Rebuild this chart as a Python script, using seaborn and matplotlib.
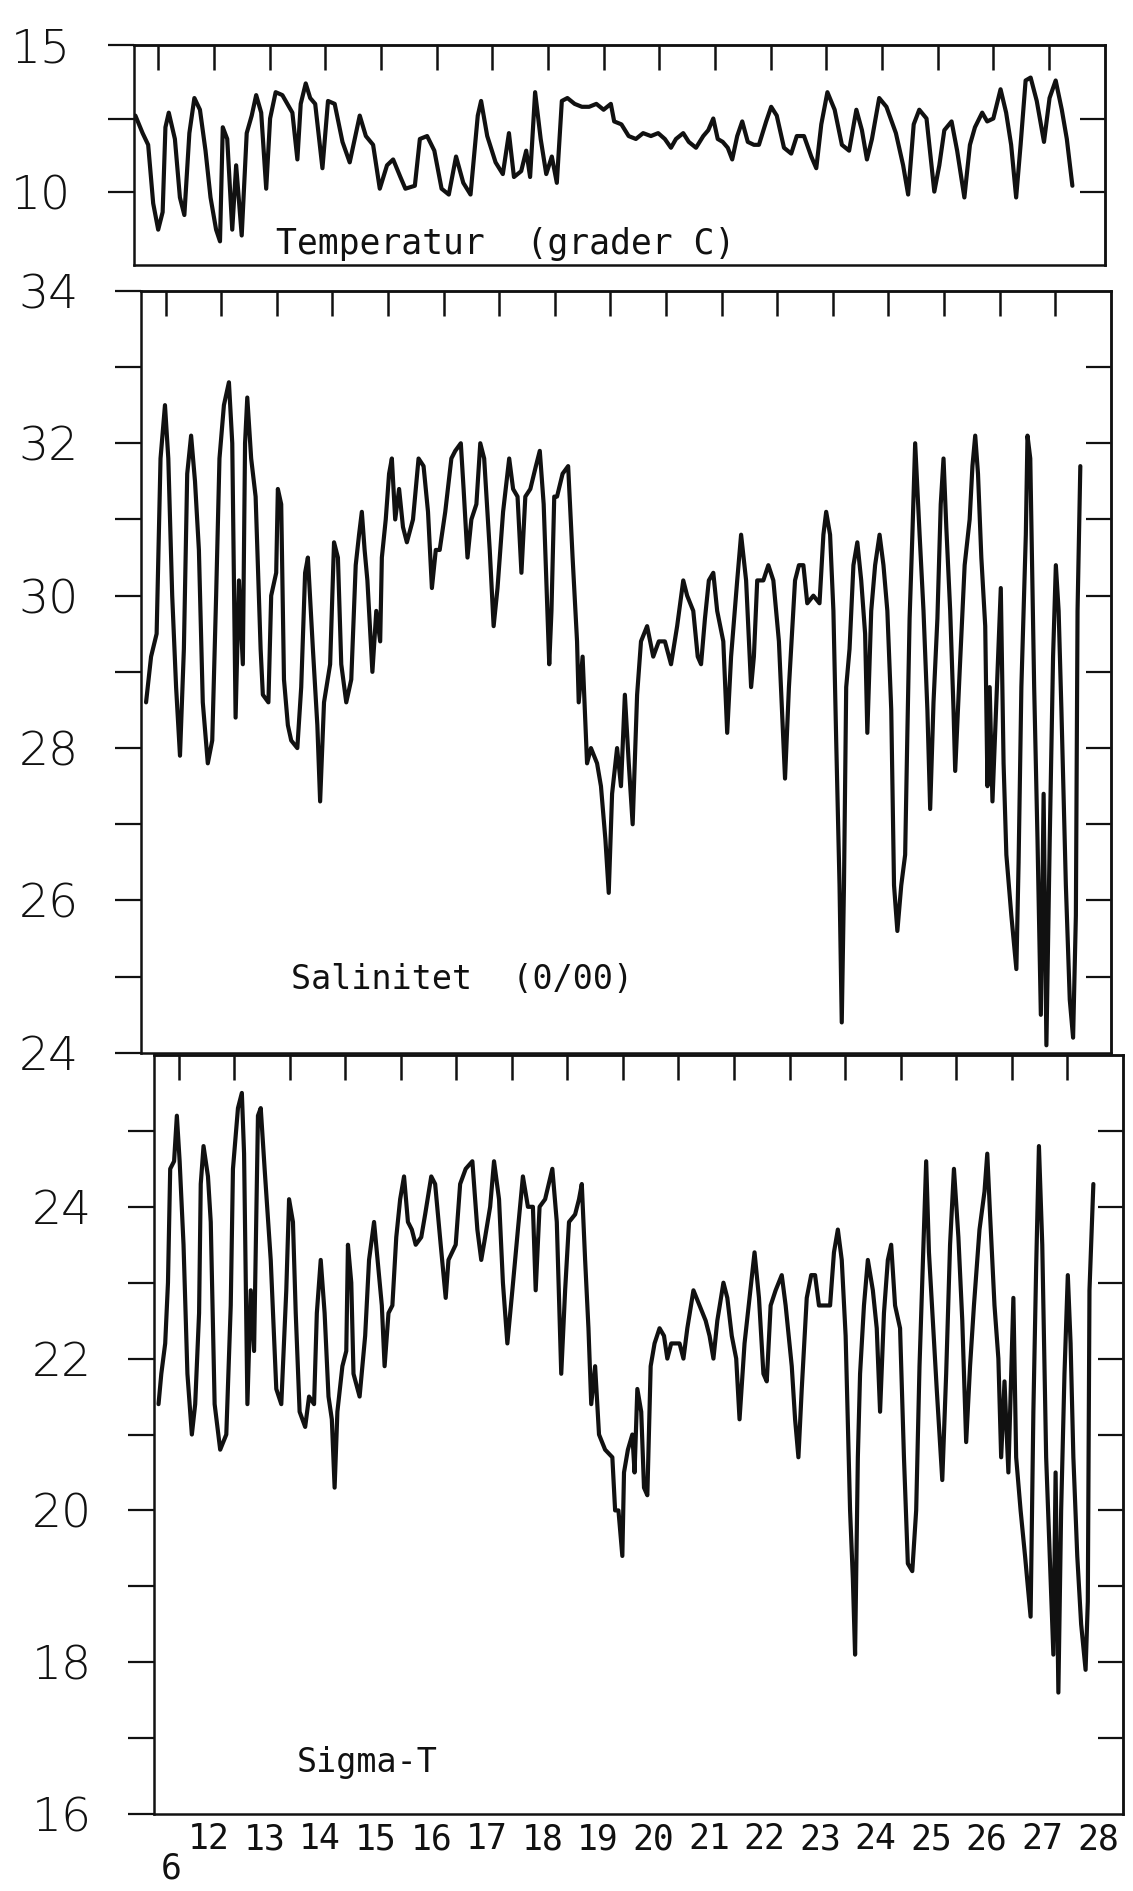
import matplotlib.pyplot as plt
import pandas as pd
import seaborn as sns


# time axis in days (month 6)
X_START = 11.56
X_END = 29.0
DAY_TICKS = list(range(12, 29))
DAY_LABELS = [str(d) for d in DAY_TICKS]
MONTH_LABEL = "6"

TEMP_DAY = [
    11.59, 11.72, 11.82, 11.91, 12.00, 12.08, 12.13, 12.19, 12.30, 12.39,
    12.47, 12.56, 12.65, 12.75, 12.85, 12.94, 13.04, 13.11, 13.16, 13.24,
    13.33, 13.40, 13.50, 13.59, 13.68, 13.76, 13.85, 13.94, 14.01, 14.11,
    14.23, 14.41, 14.50, 14.56, 14.65, 14.73, 14.82, 14.95, 15.05, 15.17,
    15.31, 15.44, 15.53, 15.62, 15.73, 15.86, 15.98, 16.11, 16.22, 16.35,
    16.44, 16.61, 16.70, 16.83, 16.96, 17.09, 17.22, 17.35, 17.48, 17.61,
    17.74, 17.80, 17.91, 18.06, 18.19, 18.30, 18.39, 18.52, 18.61, 18.68,
    18.77, 18.87, 18.97, 19.07, 19.16, 19.25, 19.35, 19.48, 19.61, 19.74,
    19.87, 20.00, 20.13, 20.19, 20.32, 20.45, 20.58, 20.71, 20.85, 20.98,
    21.10, 21.21, 21.30, 21.43, 21.53, 21.66, 21.79, 21.88, 21.97, 22.05,
    22.14, 22.23, 22.31, 22.40, 22.49, 22.59, 22.70, 22.79, 22.92, 23.01,
    23.11, 23.24, 23.37, 23.47, 23.60, 23.73, 23.82, 23.91, 24.02, 24.15,
    24.28, 24.41, 24.54, 24.64, 24.73, 24.82, 24.95, 25.08, 25.25, 25.38,
    25.47, 25.57, 25.67, 25.80, 25.94, 26.03, 26.12, 26.25, 26.35, 26.48,
    26.58, 26.67, 26.80, 26.89, 27.00, 27.13, 27.23, 27.32, 27.41, 27.49,
    27.58, 27.67, 27.78, 27.91, 28.01, 28.12, 28.23, 28.32, 28.42,
]
TEMP_VAL = [
    12.6, 12.0, 11.6, 9.6, 8.7, 9.3, 12.2, 12.7, 11.8, 9.8,
    9.2, 12.0, 13.2, 12.8, 11.4, 9.8, 8.7, 8.3, 12.2, 11.8,
    8.7, 10.9, 8.5, 12.0, 12.6, 13.3, 12.7, 10.1, 12.5, 13.4,
    13.3, 12.7, 11.1, 13.0, 13.7, 13.2, 13.0, 10.8, 13.1, 13.0,
    11.7, 11.0, 11.8, 12.6, 11.9, 11.6, 10.1, 10.9, 11.1, 10.5,
    10.1, 10.2, 11.8, 11.9, 11.4, 10.1, 9.9, 11.2, 10.3, 9.9,
    12.6, 13.1, 11.9, 11.0, 10.6, 12.0, 10.5, 10.7, 11.4, 10.5,
    13.4, 11.8, 10.6, 11.2, 10.3, 13.1, 13.2, 13.0, 12.9, 12.9,
    13.0, 12.8, 13.0, 12.4, 12.3, 11.9, 11.8, 12.0, 11.9, 12.0,
    11.8, 11.5, 11.8, 12.0, 11.7, 11.5, 11.9, 12.1, 12.5, 11.8,
    11.7, 11.5, 11.1, 11.9, 12.4, 11.7, 11.6, 11.6, 12.4, 12.9,
    12.6, 11.5, 11.3, 11.9, 11.9, 11.2, 10.8, 12.3, 13.4, 12.8,
    11.6, 11.4, 12.8, 12.1, 11.1, 11.8, 13.2, 12.9, 12.0, 10.9,
    9.9, 12.3, 12.8, 12.5, 10.0, 10.9, 12.1, 12.4, 11.4, 9.8,
    11.6, 12.2, 12.7, 12.4, 12.5, 13.5, 12.7, 11.6, 9.8, 11.6,
    13.8, 13.9, 13.1, 11.7, 13.2, 13.8, 12.8, 11.8, 10.2,
]

SAL_DAY = [
    11.65, 11.74, 11.84, 11.91, 11.99, 12.05, 12.12, 12.19, 12.26, 12.33,
    12.39, 12.46, 12.53, 12.60, 12.67, 12.76, 12.84, 12.91, 12.97, 13.05,
    13.14, 13.20, 13.26, 13.32, 13.39, 13.43, 13.47, 13.54, 13.62, 13.71,
    13.75, 13.85, 13.90, 13.99, 14.02, 14.08, 14.13, 14.20, 14.26, 14.37,
    14.44, 14.51, 14.56, 14.65, 14.73, 14.78, 14.85, 14.96, 15.03, 15.10,
    15.16, 15.25, 15.34, 15.42, 15.48, 15.53, 15.58, 15.63, 15.72, 15.79,
    15.86, 15.89, 15.96, 16.02, 16.07, 16.13, 16.20, 16.27, 16.34, 16.45,
    16.55, 16.64, 16.72, 16.79, 16.86, 16.93, 17.03, 17.14, 17.21, 17.31,
    17.36, 17.43, 17.50, 17.59, 17.66, 17.73, 17.83, 17.90, 17.97, 18.07,
    18.18, 18.25, 18.33, 18.40, 18.47, 18.56, 18.66, 18.73, 18.80, 18.90,
    18.94, 18.99, 19.04, 19.14, 19.24, 19.32, 19.40, 19.43, 19.50, 19.58,
    19.65, 19.76, 19.83, 19.91, 19.97, 20.03, 20.12, 20.19, 20.26, 20.33,
    20.40, 20.48, 20.55, 20.66, 20.77, 20.87, 20.98, 21.09, 21.20, 21.31,
    21.38, 21.49, 21.57, 21.63, 21.70, 21.77, 21.85, 21.92, 22.03, 22.10,
    22.17, 22.28, 22.35, 22.44, 22.53, 22.58, 22.64, 22.75, 22.84, 22.93,
    23.03, 23.14, 23.21, 23.32, 23.39, 23.47, 23.54, 23.65, 23.76, 23.83,
    23.88, 23.95, 24.01, 24.06, 24.12, 24.16, 24.20, 24.24, 24.30, 24.37,
    24.44, 24.51, 24.58, 24.62, 24.69, 24.76, 24.84, 24.91, 24.98, 25.05,
    25.10, 25.16, 25.23, 25.30, 25.34, 25.38, 25.43, 25.48, 25.56, 25.63,
    25.70, 25.75, 25.81, 25.88, 25.94, 25.99, 26.04, 26.11, 26.17, 26.20,
    26.28, 26.37, 26.46, 26.51, 26.56, 26.61, 26.67, 26.74, 26.78, 26.82,
    26.87, 26.95, 27.02, 27.07, 27.12, 27.21, 27.30, 27.34, 27.39, 27.47,
    27.50, 27.55, 27.62, 27.68, 27.74, 27.79, 27.84, 27.90, 27.96, 28.01,
    28.06, 28.11, 28.19, 28.26, 28.32, 28.37, 28.40, 28.45,
]
SAL_VAL = [
    28.6, 29.2, 29.5, 31.8, 32.5, 31.8, 30.0, 28.8, 27.9, 29.3,
    31.6, 32.1, 31.5, 30.6, 28.6, 27.8, 28.1, 30.0, 31.8, 32.5,
    32.8, 32.0, 28.4, 30.2, 29.1, 32.0, 32.6, 31.8, 31.3, 29.3,
    28.7, 28.6, 30.0, 30.3, 31.4, 31.2, 28.9, 28.3, 28.1, 28.0,
    28.8, 30.3, 30.5, 29.3, 28.3, 27.3, 28.6, 29.1, 30.7, 30.5,
    29.1, 28.6, 28.9, 30.4, 30.8, 31.1, 30.6, 30.2, 29.0, 29.8,
    29.4, 30.5, 31.0, 31.6, 31.8, 31.0, 31.4, 30.9, 30.7, 31.0,
    31.8, 31.7, 31.1, 30.1, 30.6, 30.6, 31.1, 31.8, 31.9, 32.0,
    31.4, 30.5, 31.0, 31.2, 32.0, 31.8, 30.6, 29.6, 30.1, 31.1,
    31.8, 31.4, 31.3, 30.3, 31.3, 31.4, 31.7, 31.9, 31.2, 29.1,
    29.8, 31.3, 31.3, 31.6, 31.7, 30.5, 29.4, 28.6, 29.2, 27.8,
    28.0, 27.8, 27.5, 26.8, 26.1, 27.4, 28.0, 27.5, 28.7, 27.8,
    27.0, 28.7, 29.4, 29.6, 29.2, 29.4, 29.4, 29.1, 29.6, 30.2,
    30.0, 29.8, 29.2, 29.1, 29.7, 30.2, 30.3, 29.8, 29.4, 28.2,
    29.2, 30.2, 30.8, 30.2, 28.8, 29.2, 30.2, 30.2, 30.4, 30.2,
    29.4, 27.6, 28.8, 30.2, 30.4, 30.4, 29.9, 30.0, 29.9, 30.8,
    31.1, 30.8, 29.8, 28.1, 26.2, 24.4, 26.2, 28.8, 29.3, 30.4,
    30.7, 30.2, 29.5, 28.2, 29.8, 30.4, 30.8, 30.4, 29.8, 28.5,
    26.2, 25.6, 26.2, 26.6, 28.2, 29.7, 30.8, 32.0, 30.8, 29.8,
    28.5, 27.2, 28.6, 29.7, 31.2, 31.8, 30.9, 29.8, 28.5, 27.7,
    29.0, 30.4, 31.0, 31.7, 32.1, 31.6, 30.5, 29.6, 27.5, 28.8,
    27.3, 28.8, 30.1, 27.8, 26.6, 25.8, 25.1, 26.5, 28.8, 30.8,
    32.1, 31.8, 28.8, 26.8, 24.5, 27.4, 24.1, 26.8, 29.2, 30.4,
    29.8, 28.5, 26.2, 24.7, 24.2, 25.8, 29.8, 31.7,
]

SIG_DAY = [
    11.64, 11.69, 11.76, 11.81, 11.85, 11.92, 11.97, 12.02, 12.09, 12.16,
    12.24, 12.30, 12.37, 12.40, 12.45, 12.53, 12.58, 12.65, 12.75, 12.86,
    12.94, 12.98, 13.07, 13.14, 13.18, 13.24, 13.30, 13.36, 13.43, 13.48,
    13.55, 13.66, 13.76, 13.85, 13.94, 13.99, 14.06, 14.11, 14.18, 14.28,
    14.35, 14.44, 14.49, 14.56, 14.63, 14.70, 14.76, 14.81, 14.86, 14.95,
    15.02, 15.05, 15.11, 15.15, 15.26, 15.36, 15.43, 15.52, 15.61, 15.66,
    15.71, 15.78, 15.85, 15.92, 15.99, 16.06, 16.13, 16.20, 16.27, 16.37,
    16.44, 16.55, 16.62, 16.72, 16.81, 16.86, 16.99, 17.07, 17.17, 17.29,
    17.38, 17.45, 17.52, 17.61, 17.68, 17.77, 17.84, 17.92, 18.01, 18.11,
    18.20, 18.29, 18.38, 18.43, 18.50, 18.60, 18.73, 18.81, 18.89, 18.96,
    19.03, 19.14, 19.21, 19.26, 19.32, 19.38, 19.43, 19.50, 19.57, 19.68,
    19.81, 19.86, 19.92, 19.99, 20.02, 20.09, 20.17, 20.21, 20.26, 20.33,
    20.38, 20.44, 20.50, 20.57, 20.66, 20.74, 20.80, 20.87, 20.95, 21.02,
    21.09, 21.16, 21.27, 21.38, 21.49, 21.56, 21.63, 21.70, 21.81, 21.88,
    21.96, 22.04, 22.10, 22.19, 22.28, 22.37, 22.45, 22.53, 22.59, 22.66,
    22.75, 22.86, 22.93, 23.04, 23.10, 23.16, 23.22, 23.31, 23.39, 23.46,
    23.53, 23.62, 23.73, 23.80, 23.87, 23.94, 24.01, 24.09, 24.14, 24.18,
    24.23, 24.27, 24.34, 24.41, 24.50, 24.57, 24.63, 24.70, 24.77, 24.83,
    24.90, 24.99, 25.06, 25.13, 25.21, 25.28, 25.34, 25.41, 25.46, 25.51,
    25.58, 25.65, 25.75, 25.82, 25.89, 25.96, 26.04, 26.11, 26.18, 26.25,
    26.32, 26.42, 26.51, 26.56, 26.61, 26.69, 26.76, 26.81, 26.87, 26.94,
    27.03, 27.08, 27.16, 27.24, 27.34, 27.39, 27.44, 27.49, 27.55, 27.62,
    27.70, 27.75, 27.79, 27.84, 27.89, 27.95, 28.01, 28.06, 28.11, 28.18,
    28.25, 28.33, 28.37, 28.40, 28.47,
]
SIG_VAL = [
    21.4, 21.8, 22.2, 23.0, 24.5, 24.6, 25.2, 24.6, 23.5, 21.8,
    21.0, 21.4, 22.6, 24.3, 24.8, 24.4, 23.8, 21.4, 20.8, 21.0,
    22.7, 24.5, 25.3, 25.5, 24.7, 21.4, 22.9, 22.1, 25.2, 25.3,
    24.5, 23.3, 21.6, 21.4, 22.9, 24.1, 23.8, 22.6, 21.3, 21.1,
    21.5, 21.4, 22.6, 23.3, 22.6, 21.5, 21.2, 20.3, 21.3, 21.9,
    22.1, 23.5, 23.0, 21.8, 21.5, 22.3, 23.3, 23.8, 23.1, 22.7,
    21.9, 22.6, 22.7, 23.6, 24.1, 24.4, 23.8, 23.7, 23.5, 23.6,
    23.9, 24.4, 24.3, 23.5, 22.8, 23.3, 23.5, 24.3, 24.5, 24.6,
    23.7, 23.3, 23.6, 24.0, 24.6, 24.1, 23.0, 22.2, 22.9, 23.7,
    24.4, 24.0, 24.0, 22.9, 24.0, 24.1, 24.5, 23.8, 21.8, 22.9,
    23.8, 23.9, 24.1, 24.3, 23.3, 22.4, 21.4, 21.9, 21.0, 20.8,
    20.7, 20.0, 20.0, 19.4, 20.5, 20.8, 21.0, 20.5, 21.6, 21.3,
    20.3, 20.2, 21.9, 22.2, 22.4, 22.3, 22.0, 22.2, 22.2, 22.2,
    22.0, 22.4, 22.9, 22.7, 22.5, 22.3, 22.0, 22.5, 23.0, 22.8,
    22.3, 22.0, 21.2, 22.2, 22.8, 23.4, 22.8, 21.8, 21.7, 22.7,
    22.9, 23.1, 22.7, 21.9, 21.2, 20.7, 21.6, 22.8, 23.1, 23.1,
    22.7, 22.7, 22.7, 23.4, 23.7, 23.3, 22.3, 20.0, 19.1, 18.1,
    20.7, 21.8, 22.7, 23.3, 22.9, 22.4, 21.3, 22.6, 23.3, 23.5,
    22.7, 22.4, 20.7, 19.3, 19.2, 20.0, 21.9, 23.5, 24.6, 23.4,
    22.5, 21.6, 20.4, 21.8, 23.5, 24.5, 23.6, 22.5, 20.9, 21.9,
    22.7, 23.7, 24.2, 24.7, 23.9, 22.7, 22.0, 20.7, 21.7, 20.5,
    22.8, 20.7, 20.0, 19.4, 18.6, 21.3, 23.2, 24.8, 23.5, 20.7,
    19.1, 18.1, 20.5, 17.6, 20.0, 21.8, 23.1, 22.2, 20.7, 19.4,
    18.5, 17.9, 18.8, 22.9, 24.3,
]

TEMP_TITLE = "Temperatur  (grader C)"
SAL_TITLE = "Salinitet  (0/00)"
SIG_TITLE = "Sigma-T"

MONO = "DejaVu Sans Mono"
INK = "#111111"


def style_panel(ax, ylim, major, labels, minor, right_ticks, bottom=False):
    ax.set_xlim(X_START, X_END)
    ax.set_ylim(*ylim)
    ax.set_xlabel("")
    ax.set_ylabel("")
    for spine in ax.spines.values():
        spine.set_visible(True)
        spine.set_linewidth(1.8)
        spine.set_color(INK)

    ax.set_yticks(major, labels, fontsize=34, fontweight="light", family="DejaVu Sans")
    ax.set_yticks(minor, minor=True)
    ax.tick_params(axis="y", which="both", direction="out", length=19, width=1.6,
                   pad=26, colors=INK, left=True, right=False)

    right = ax.secondary_yaxis("right")
    right.set_yticks(right_ticks)
    right.tick_params(direction="in", length=18, width=1.6, labelright=False, colors=INK)
    right.spines["right"].set_linewidth(1.8)

    top = ax.secondary_xaxis("top")
    top.set_xticks(DAY_TICKS)
    top.tick_params(direction="in", length=18, width=1.8, labeltop=False, colors=INK)
    top.spines["top"].set_linewidth(1.8)

    if bottom:
        ax.set_xticks([X_START] + DAY_TICKS)
        ax.tick_params(axis="x", which="major", direction="out", length=22, width=1.6,
                       labelbottom=False, colors=INK)
        ax.set_xticks([d + 0.55 for d in DAY_TICKS], DAY_LABELS, minor=True,
                      fontsize=25, family=MONO)
        ax.tick_params(axis="x", which="minor", length=0, pad=6, colors=INK)
        ax.annotate(MONTH_LABEL, xy=(11.86, 0), xycoords=("data", "axes fraction"),
                    xytext=(0, -27), textcoords="offset points", ha="center", va="top",
                    fontsize=25, family=MONO, color=INK)
    else:
        ax.tick_params(axis="x", which="both", bottom=False, labelbottom=False)


def draw_series(ax, days, values):
    df = pd.DataFrame({"day": days, "value": values})
    sns.lineplot(data=df, x="day", y="value", ax=ax, color=INK, linewidth=3.0,
                 estimator=None, sort=False, solid_joinstyle="round")


sns.set_theme(style="white")
plt.rcParams["font.family"] = ["DejaVu Sans"]

fig = plt.figure(figsize=(11.33, 18.91), dpi=100)
ax_t = fig.add_axes([0.118, 0.860, 0.857, 0.116])
ax_s = fig.add_axes([0.1245, 0.4432, 0.856, 0.403])
ax_g = fig.add_axes([0.136, 0.0407, 0.855, 0.4014])

draw_series(ax_t, TEMP_DAY, TEMP_VAL)
draw_series(ax_s, SAL_DAY, SAL_VAL)
draw_series(ax_g, SIG_DAY, SIG_VAL)

style_panel(ax_t, (7.5, 15), [10, 15], ["10", "15"], [12.5], [10, 12.5])
style_panel(ax_s, (24, 34), [24, 26, 28, 30, 32, 34], ["24", "26", "28", "30", "32", "34"],
            [25, 27, 29, 31, 33], list(range(25, 34)))
style_panel(ax_g, (16, 26), [16, 18, 20, 22, 24], ["16", "18", "20", "22", "24"],
            [17, 19, 21, 23, 25], list(range(17, 26)), bottom=True)

ax_t.text(0.147, 0.05, TEMP_TITLE, transform=ax_t.transAxes, fontsize=25,
          family=MONO, color=INK, va="baseline")
ax_s.text(0.155, 0.084, SAL_TITLE, transform=ax_s.transAxes, fontsize=24,
          family=MONO, color=INK, va="baseline")
ax_g.text(0.147, 0.055, SIG_TITLE, transform=ax_g.transAxes, fontsize=24,
          family=MONO, color=INK, va="baseline")

fig.savefig("out.png", dpi=100, facecolor="white")
plt.close(fig)
